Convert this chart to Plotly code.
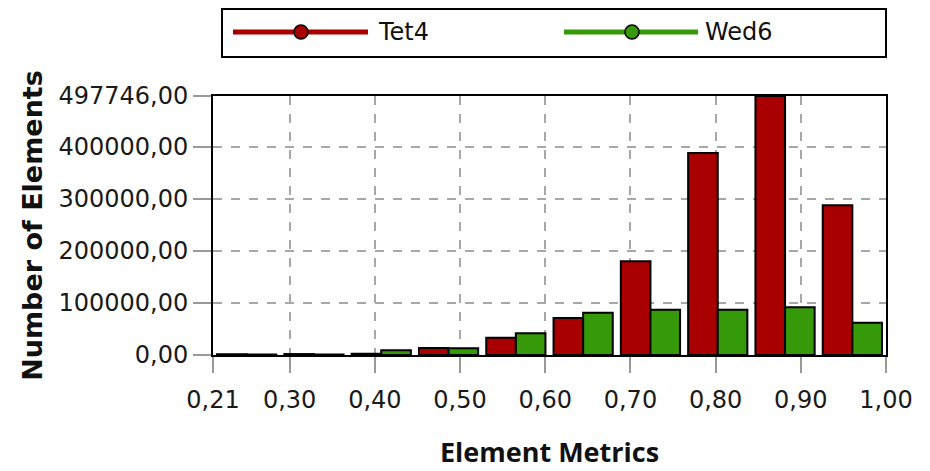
import plotly.graph_objects as go

# Element quality histogram: bin centres over the metric range 0.21 .. 1.00 (10 bins)
bin_centers = [0.2495, 0.3285, 0.4075, 0.4865, 0.5655, 0.6445, 0.7235, 0.8025, 0.8815, 0.9605]
tet4_counts = [1500, 1800, 2500, 13500, 33000, 71000, 180000, 388000, 497746, 288000]
wed6_counts = [800, 1000, 9000, 13000, 42000, 81000, 87000, 87000, 92000, 62000]

x_ticks = [0.21, 0.30, 0.40, 0.50, 0.60, 0.70, 0.80, 0.90, 1.00]
x_tick_text = ["0,21", "0,30", "0,40", "0,50", "0,60", "0,70", "0,80", "0,90", "1,00"]
y_ticks = [0, 100000, 200000, 300000, 400000, 497746]
y_tick_text = ["0,00", "100000,00", "200000,00", "300000,00", "400000,00", "497746,00"]

series_names = ["Tet4", "Wed6"]
series_colors = ["#a80000", "#36990a"]

W, H = 930, 471
L, R, T, B = 213, 44, 96, 116
PW, PH = W - L - R, H - T - B

fig = go.Figure()
for name, vals, col in zip(series_names, [tet4_counts, wed6_counts], series_colors):
    fig.add_trace(go.Bar(
        x=bin_centers, y=vals, name=name, showlegend=False,
        marker=dict(color=col, line=dict(color="black", width=2)),
    ))


def px(x):
    return (x - L) / PW


def py(y):
    return (H - B - y) / PH


shapes = []
annotations = []
# legend frame
shapes.append(dict(type="rect", xref="paper", yref="paper",
                   x0=px(222), x1=px(886), y0=py(57), y1=py(9),
                   line=dict(color="black", width=2), fillcolor="white"))
legend_items = [(233, 368, 301, 376), (564, 698, 632, 703)]
for (lx0, lx1, mx, tx), name, col in zip(legend_items, series_names, series_colors):
    shapes.append(dict(type="line", xref="paper", yref="paper",
                       x0=px(lx0), x1=px(lx1), y0=py(32), y1=py(32),
                       line=dict(color=col, width=5)))
    shapes.append(dict(type="circle", xref="paper", yref="paper",
                       x0=px(mx - 7), x1=px(mx + 7), y0=py(39), y1=py(25),
                       line=dict(color="black", width=1.5), fillcolor=col))
    annotations.append(dict(xref="paper", yref="paper", x=px(tx), y=py(32),
                            text=name, showarrow=False, xanchor="left", yanchor="middle",
                            font=dict(family="DejaVu Sans", size=24, color="#111")))

fig.update_layout(
    width=W, height=H,
    margin=dict(l=L, r=R, t=T, b=B),
    paper_bgcolor="white", plot_bgcolor="white",
    barmode="group", bargap=0.12, bargroupgap=0,
    shapes=shapes, annotations=annotations,
    showlegend=False,
    font=dict(family="DejaVu Sans", size=24, color="#1a1a1a"),
)
fig.update_xaxes(
    range=[0.21, 1.00], tickvals=x_ticks, ticktext=x_tick_text,
    showgrid=True, gridcolor="#a8a8a8", griddash="dash", gridwidth=1.5,
    showline=True, linecolor="black", linewidth=2, mirror=True,
    ticks="outside", ticklen=16, tickcolor="#999", tickwidth=1.5,
    ticklabelstandoff=6, automargin=False,
    zeroline=False,
    title=dict(text="<b>Element Metrics</b>", standoff=30,
               font=dict(family="Open Sans", size=27, color="#111")),
)
fig.update_yaxes(
    range=[0, 497746], tickvals=y_ticks, ticktext=y_tick_text,
    showgrid=True, gridcolor="#a8a8a8", griddash="dash", gridwidth=1.5,
    showline=True, linecolor="black", linewidth=2, mirror=True,
    ticks="outside", ticklen=18, tickcolor="#999", tickwidth=1.5,
    automargin=False,
    zeroline=False,
    title=dict(text="<b>Number of Elements</b>", standoff=8,
               font=dict(family="DejaVu Sans", size=27, color="#111")),
)

fig.write_html("out.html")
